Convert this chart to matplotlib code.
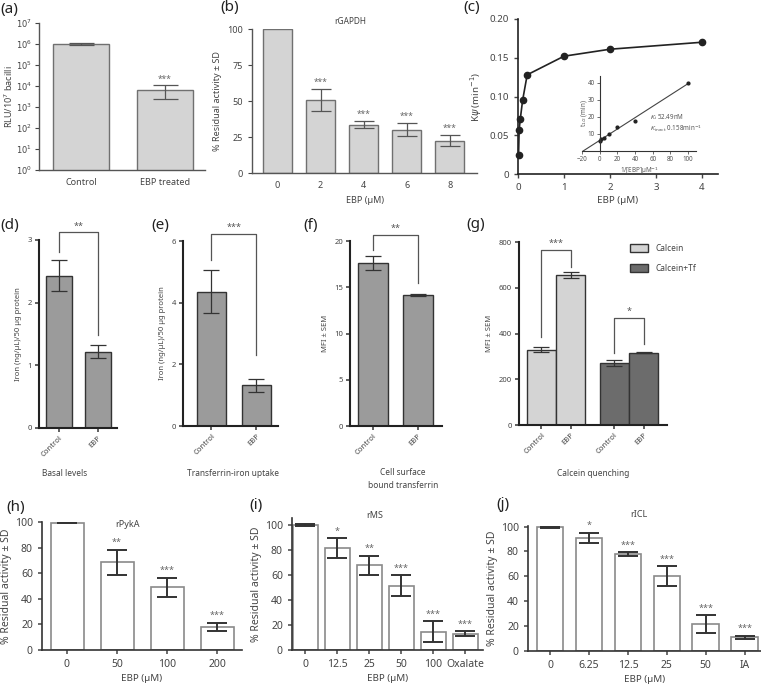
import numpy as np
import matplotlib
matplotlib.use('Agg')
import matplotlib.pyplot as plt

plt.rcParams['font.family'] = ['Noto Sans', 'DejaVu Sans']
plt.rcParams['mathtext.fontset'] = 'dejavusans'

# (a) luciferase
a_labels = ['Control', 'EBP treated']
a_vals = [1.0e6, 6.5e3]
a_lo = [8.5e5, 2.5e3]
a_hi = [1.15e6, 1.1e4]

# (b) rGAPDH
b_doses = ['0', '2', '4', '6', '8']
b_vals = [100, 50.5, 33.5, 30.2, 22.5]
b_err = [0, 7.5, 2.3, 4.4, 3.6]
b_stars = ['', '***', '***', '***', '***']

# (c) kinetics + inset
c_ebp = [0.0125, 0.025, 0.05, 0.1, 0.2, 1, 2, 4]
c_k = [0.025, 0.057, 0.071, 0.095, 0.128, 0.152, 0.161, 0.170]
c_inv = [0.5, 1, 5, 10, 20, 40, 100]
c_thalf = [6.0, 7.0, 7.6, 10.1, 14.0, 17.7, 40.0]

# (d)-(f) iron
pair_labels = ['Control', 'EBP']
d_vals = [2.43, 1.22]
d_err = [0.25, 0.1]
e_vals = [4.35, 1.32]
e_err = [0.7, 0.22]
f_vals = [17.6, 14.2]
f_err = [0.75, 0.1]

# (g) calcein
g_calcein = [330, 655]
g_calcein_err = [12, 13]
g_tf = [272, 316]
g_tf_err = [14, 3]

# (h)-(j) enzymes
h_doses = ['0', '50', '100', '200']
h_vals = [99.5, 68.5, 49, 18]
h_err = [0.5, 10, 7.5, 3.3]
h_stars = ['', '**', '***', '***']

i_doses = ['0', '12.5', '25', '50', '100', 'Oxalate']
i_vals = [100, 81.3, 67.7, 51.2, 14.7, 13.0]
i_err = [1, 8, 7.6, 8.4, 8.3, 2]
i_stars = ['', '*', '**', '***', '***', '***']

j_doses = ['0', '6.25', '12.5', '25', '50', 'IA']
j_vals = [99.5, 91, 78, 60.3, 21.6, 11.2]
j_err = [0.5, 4, 1.6, 8, 7.2, 1.2]
j_stars = ['', '*', '***', '***', '***', '***']

W, H = 761, 684
fig = plt.figure(figsize=(W / 100, H / 100), dpi=100)


def ax_px(l, t, r, b):
    return fig.add_axes([l / W, 1 - b / H, (r - l) / W, (b - t) / H])


def clean(ax, lw=1.0, color='#444444'):
    for s in ['top', 'right']:
        ax.spines[s].set_visible(False)
    for s in ['left', 'bottom']:
        ax.spines[s].set_linewidth(lw)
        ax.spines[s].set_color(color)


def plabel(x, y, s):
    fig.text(x / W, 1 - y / H, s, fontsize=11, va='center', ha='left', color='#222222')


def bracket(ax, x0, x1, ytop, yl, yr, star, dy, fs=6.5):
    ax.plot([x0, x0, x1, x1], [yl, ytop, ytop, yr], color='#555555', lw=0.9, clip_on=False)
    ax.text((x0 + x1) / 2, ytop + dy, star, ha='center', va='bottom', fontsize=fs, color='#555555')


light = '#d4d4d4'
mid = '#9b9b9b'
dark = '#6c6c6c'

# ---------- (a)
ax = ax_px(39, 23, 205, 170)
clean(ax, 1.0, '#555555')
xa = np.arange(2)
ax.bar(xa, a_vals, width=0.667, color=light, edgecolor='#707070', linewidth=1.0)
yerr = [np.array(a_vals) - np.array(a_lo), np.array(a_hi) - np.array(a_vals)]
ax.errorbar(xa, a_vals, yerr=yerr, fmt='none', ecolor='#555555', elinewidth=0.9, capsize=9, capthick=0.9)
ax.set_yscale('log')
ax.set_ylim(1, 1e7)
ax.set_xlim(-0.5, 1.476)
ax.set_yticks([10.0 ** k for k in range(8)])
ax.set_yticklabels([r'$10^{%d}$' % k for k in range(8)])
ax.minorticks_off()
ax.set_xticks(xa)
ax.set_xticklabels(a_labels)
ax.tick_params(axis='x', length=0, pad=6, labelsize=6.5, colors='#444444')
ax.tick_params(axis='y', length=3, labelsize=6, colors='#444444', width=0.8, pad=2)
ax.set_ylabel(r'RLU/10$^7$ bacilli', fontsize=6.5, color='#444444')
ax.yaxis.set_label_coords(-0.145, 0.5)
ax.text(1, a_hi[1] * 1.15, '***', ha='center', va='bottom', fontsize=6, color='#666666')
plabel(0, 10, '(a)')

# ---------- (b)
ax = ax_px(252, 29, 477, 173)
clean(ax, 1.0, '#555555')
xb = np.arange(len(b_doses))
ax.bar(xb, b_vals, width=0.67, color=light, edgecolor='#707070', linewidth=1.0)
ax.errorbar(xb[1:], b_vals[1:], yerr=b_err[1:], fmt='none', ecolor='#555555', elinewidth=0.9, capsize=7, capthick=0.9)
for x, v, e, s in zip(xb, b_vals, b_err, b_stars):
    if s:
        ax.text(x, v + e + 1.5, s, ha='center', va='bottom', fontsize=6, color='#666666')
ax.set_ylim(0, 100)
ax.set_xlim(-0.593, 4.63)
ax.set_yticks([0, 25, 50, 75, 100])
ax.set_xticks(xb)
ax.set_xticklabels(b_doses)
ax.tick_params(axis='x', length=0, pad=6, labelsize=6.5, colors='#444444')
ax.tick_params(axis='y', length=3, labelsize=6.5, colors='#444444', width=0.8)
ax.set_xlabel('EBP (µM)', fontsize=6.5, color='#444444', labelpad=4)
ax.set_ylabel('% Residual activity ± SD', fontsize=6.5, color='#444444')
ax.text(0.435, 1.05, 'rGAPDH', transform=ax.transAxes, ha='center', va='center', fontsize=6, color='#444444')
plabel(220, 8, '(b)')

# ---------- (c)
ax = ax_px(518, 19, 718, 174)
clean(ax, 1.2, '#222222')
ax.plot(c_ebp, c_k, color='#222222', lw=1.2, marker='o', ms=4.5, clip_on=False, zorder=3)
ax.set_xlim(0, 4.35)
ax.set_ylim(0, 0.2)
ax.set_xticks([0, 1, 2, 3, 4])
ax.set_yticks([0, 0.05, 0.10, 0.15, 0.20])
ax.set_yticklabels(['0', '0.05', '0.10', '0.15', '0.20'])
ax.tick_params(length=3, width=1, labelsize=7, colors='#444444')
ax.set_xlabel('EBP (µM)', fontsize=7, color='#444444', labelpad=3)
ax.set_ylabel(r'K$\psi$ (min$^{-1}$)', fontsize=7, color='#444444')
plabel(463, 8, '(c)')

ins = ax_px(582, 76, 696, 151)
for s in ['top', 'right']:
    ins.spines[s].set_visible(False)
ins.spines['left'].set_position(('data', 0))
for s in ['left', 'bottom']:
    ins.spines[s].set_linewidth(0.8)
    ins.spines[s].set_color('#333333')
slope, icpt = np.polyfit(c_inv, c_thalf, 1)
xl = np.array([-icpt / slope, max(c_inv)])
ins.plot(xl, slope * xl + icpt, color='#444444', lw=0.8)
ins.plot(c_inv, c_thalf, 'o', color='#222222', ms=2)
ins.set_xlim(-20, 109)
ins.set_ylim(0, 44)
ins.set_xticks([-20, 0, 20, 40, 60, 80, 100])
ins.set_yticks([10, 20, 30, 40])
ins.tick_params(length=2, width=0.6, labelsize=4.5, colors='#555555', pad=1.5)
ins.set_xlabel(r'1/[EBP]µM$^{-1}$', fontsize=4.5, color='#555555', labelpad=2)
ins.set_ylabel(r't$_{1/2}$ (min)', fontsize=4.5, color='#555555', labelpad=1)
ins.yaxis.set_label_coords(0.06, 0.5)
ins.patch.set_alpha(0)
ins.text(0.6, 0.42, r'$K_{\rm i}$ 52.49nM', transform=ins.transAxes, fontsize=4.5, color='#555555')
ins.text(0.6, 0.27, r'$K_{\rm inact}$ 0.158min$^{-1}$', transform=ins.transAxes, fontsize=4.5, color='#555555')


# ---------- (d)-(f)
def iron_panel(box, vals, err, ylim, yticks, xlim, width):
    ax = ax_px(*box)
    clean(ax, 1.5, '#222222')
    x = np.arange(2)
    ax.bar(x, vals, width=width, color=mid, edgecolor='#333333', linewidth=1.0)
    ax.errorbar(x, vals, yerr=err, fmt='none', ecolor='#333333', elinewidth=0.9, capsize=6, capthick=0.9)
    ax.set_ylim(*ylim)
    ax.set_xlim(*xlim)
    ax.set_yticks(yticks)
    ax.set_xticks(x)
    ax.set_xticklabels(pair_labels, rotation=45, ha='right', rotation_mode='anchor')
    ax.tick_params(length=3, width=1.2, labelsize=5.5, colors='#444444', pad=2)
    return ax


ax = iron_panel((39, 240, 117, 428), d_vals, d_err, (0, 3), [0, 1, 2, 3], (-0.513, 1.487), 0.67)
ax.set_ylabel('Iron (ng/µL)/50 µg protein', fontsize=5.5, color='#444444')
bracket(ax, 0, 1, 3.12, 2.81, 1.49, '**', 0.03)
fig.text(65 / W, 1 - 473 / H, 'Basal levels', ha='center', va='center', fontsize=6, color='#444444')
plabel(0, 225, '(d)')

ax = iron_panel((183, 241, 278, 426), e_vals, e_err, (0, 6), [0, 2, 4, 6], (-0.633, 1.478), 0.644)
ax.set_ylabel('Iron (ng/µL)/50 µg protein', fontsize=5.5, color='#444444')
bracket(ax, 0, 1, 6.24, 5.4, 2.29, '***', 0.05)
fig.text(233 / W, 1 - 473 / H, 'Transferrin-iron uptake', ha='center', va='center', fontsize=6, color='#444444')
plabel(151, 225, '(e)')

ax = iron_panel((350, 241, 442, 426), f_vals, f_err, (0, 20), [0, 5, 10, 15, 20], (-0.511, 1.533), 0.667)
ax.set_ylabel('MFI ± SEM', fontsize=5.5, color='#444444')
bracket(ax, 0, 1, 20.7, 19.0, 15.5, '**', 0.2)
fig.text(403 / W, 1 - 479 / H, 'Cell surface\nbound transferrin', ha='center', va='center',
         fontsize=6, color='#444444', linespacing=1.5)
plabel(303, 225, '(f)')

# ---------- (g)
ax = ax_px(519, 242, 667, 425)
clean(ax, 1.5, '#222222')
xg1 = np.array([0, 1])
xg2 = np.array([2.5, 3.5])
ax.bar(xg1, g_calcein, width=1.0, color=light, edgecolor='#333333', linewidth=1.0, label='Calcein')
ax.bar(xg2, g_tf, width=1.0, color=dark, edgecolor='#333333', linewidth=1.0, label='Calcein+Tf')
ax.errorbar(xg1, g_calcein, yerr=g_calcein_err, fmt='none', ecolor='#333333', elinewidth=0.9, capsize=6, capthick=0.9)
ax.errorbar(xg2, g_tf, yerr=g_tf_err, fmt='none', ecolor='#333333', elinewidth=0.9, capsize=6, capthick=0.9)
ax.set_ylim(0, 800)
ax.set_xlim(-0.77, 4.3)
ax.set_yticks([0, 200, 400, 600, 800])
ax.set_xticks(np.concatenate([xg1, xg2]))
ax.set_xticklabels(pair_labels * 2, rotation=45, ha='right', rotation_mode='anchor')
ax.tick_params(length=3, width=1.2, labelsize=5.5, colors='#444444', pad=2)
ax.set_ylabel('MFI ± SEM', fontsize=5.5, color='#444444')
bracket(ax, 0, 1, 767, 385, 690, '***', 8)
bracket(ax, 2.5, 3.5, 468, 316, 353, '*', 8)
leg = ax.legend(loc='upper left', bbox_to_anchor=(0.7, 1.03), frameon=False, fontsize=6,
                handlelength=2.2, handleheight=1.0, labelspacing=1.3, labelcolor='#444444')
fig.text(593 / W, 1 - 474 / H, 'Calcein quenching', ha='center', va='center', fontsize=6, color='#444444')
plabel(466, 225, '(g)')


# ---------- (h)-(j)
def enzyme_panel(box, doses, vals, err, stars, xlim, width, ytop, title, tx, ty):
    ax = ax_px(*box)
    clean(ax, 1.2, '#333333')
    x = np.arange(len(doses))
    ax.bar(x, vals, width=width, color='white', edgecolor='#8a8a8a', linewidth=1.2)
    ax.errorbar(x, vals, yerr=err, fmt='none', ecolor='#333333', elinewidth=1.4, capsize=7, capthick=1.4)
    for xi, v, e, s in zip(x, vals, err, stars):
        if s:
            ax.text(xi, v + e + 2, s, ha='center', va='bottom', fontsize=6.5, color='#666666')
    ax.set_ylim(0, ytop)
    ax.set_xlim(*xlim)
    ax.set_yticks([0, 20, 40, 60, 80, 100])
    ax.set_xticks(x)
    ax.set_xticklabels(doses)
    ax.tick_params(length=3, width=1.1, labelsize=7.5, colors='#444444')
    ax.set_xlabel('EBP (µM)', fontsize=7, color='#444444', labelpad=3)
    ax.set_ylabel('% Residual activity ± SD', fontsize=7.5, color='#444444', labelpad=2)
    ax.text(tx, ty, title, transform=ax.transAxes, ha='center', va='center', fontsize=6.5, color='#444444')
    return ax


enzyme_panel((42, 522, 242, 650), h_doses, h_vals, h_err, h_stars, (-0.5, 3.5), 0.66, 100,
             'rPykA', 0.425, 0.98)
plabel(6, 507, '(h)')
enzyme_panel((292, 518, 483, 650), i_doses, i_vals, i_err, i_stars, (-0.42, 5.55), 0.8, 105.5,
             'rMS', 0.435, 1.02)
plabel(249, 505, '(i)')
enzyme_panel((528, 526, 761, 651), j_doses, j_vals, j_err, j_stars, (-0.566, 5.42), 0.68, 100.5,
             'rICL', 0.476, 1.09)
plabel(496, 505, '(j)')

fig.savefig('out.png', dpi=100)
